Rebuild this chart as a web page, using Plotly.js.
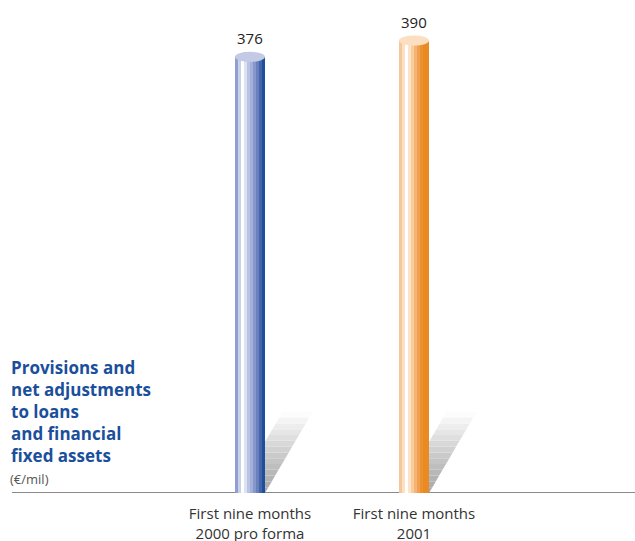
<!DOCTYPE html>
<html><head><meta charset="utf-8">
<script src="https://cdn.plot.ly/plotly-3.0.1.min.js"></script>
<style>html,body{margin:0;padding:0;background:#fff}#chart{width:635px;height:541px}</style>
</head><body><div id="chart"></div>
<script>
const categories = ["First nine months<br>2000 pro forma", "First nine months<br>2001"];
const values = [376, 390];
const valueLabels = ["376", "390"];
const titleLines = ["Provisions and", "net adjustments", "to loans", "and financial", "fixed assets"];
const unitLabel = "(€/mil)";
const stripeColors = [
  ["#8f9fd0","#c8d0ea","#ffffff","#dde2f2","#b9c3e3","#a3b0da","#8797cb","#6a80bc","#4565ab","#1e4f9c"],
  ["#f6c79a","#fbe0c4","#ffffff","#fde3c8","#f9cc9c","#f5b473","#f0a050","#ec9130","#ea8a22","#ea8a22"]
];
const topColors = ["#c2cae6", "#fbdfc0"];
const bottomColors = ["#7d8fc6", "#f2a860"];

const FONT = "'Open Sans', Lato, sans-serif";
const barW = 0.183;
const nS = 10;
const sW = barW / nS;
const traces = [];
for (let s = 0; s < nS; s++) {
  traces.push({
    type: "bar",
    x: categories,
    y: values,
    offset: -barW/2 + s*sW,
    width: sW + 0.0015,
    marker: {color: categories.map((c,i)=>stripeColors[i][s]), line: {width: 0}},
    hoverinfo: "skip",
    showlegend: false
  });
}
const shapes = [];
const annotations = [];
const eh = 4.4;
values.forEach((v, i) => {
  const nb = 14, H = 70, dx = 0.29;
  for (let k = 0; k < nb; k++) {
    const y0 = H*k/nb, y1 = H*(k+1)/nb;
    const x0 = -barW/2 + dx*k/nb, x1 = -barW/2 + dx*(k+1)/nb;
    const g = Math.round(170 + 82*Math.pow(k/(nb-1), 1.2));
    shapes.push({type:"path", xref:"x", yref:"y", layer:"below",
      path:`M ${i+x0} ${y0} L ${i+x0+barW} ${y0} L ${i+x1+barW} ${y1} L ${i+x1} ${y1} Z`,
      fillcolor:`rgb(${g},${g},${g})`, line:{width:0}});
  }
  shapes.push({type:"circle", xref:"x", yref:"y", layer:"below",
    x0: i-barW/2, x1: i+barW/2, y0: -eh, y1: eh, fillcolor: bottomColors[i], line:{width:0}});
  shapes.push({type:"circle", xref:"x", yref:"y", layer:"above",
    x0: i-barW/2, x1: i+barW/2, y0: v-eh, y1: v+eh, fillcolor: topColors[i], line:{width:0}});
  annotations.push({x: i, y: v, xref:"x", yref:"y", text: valueLabels[i], showarrow:false,
    yanchor:"bottom", yshift: 7, font:{family:FONT, size:15, color:"#222"}});
});
shapes.push({type:"line", xref:"paper", yref:"y", layer:"below", x0: 12/635, x1: 1, y0: 0, y1: 0,
  line:{color:"#8a8a8a", width:2}});
annotations.push({xref:"paper", yref:"paper", x: 10/635, y: (493-355)/493,
  xanchor:"left", yanchor:"top", align:"left", showarrow:false, borderpad:0,
  text:"<b>"+titleLines.join("<br>")+"</b>", font:{family:FONT, size:17, color:"#1b4f9c", weight:800}});
annotations.push({xref:"paper", yref:"paper", x: 9/635, y: (493-479)/493, xanchor:"left", yanchor:"middle",
  align:"left", showarrow:false, borderpad:0, text:unitLabel, font:{family:FONT, size:13, color:"#555"}});

const layout = {
  width: 635, height: 541,
  margin: {l:0, r:0, t:0, b:48},
  paper_bgcolor:"#fff", plot_bgcolor:"#fff",
  barmode:"overlay", bargap:0,
  xaxis: {type:"category", range:[-250/164, 385/164], showgrid:false, zeroline:false, showline:false,
    ticks:"", ticklabelstandoff: 10, tickfont:{family:FONT, size:15, color:"#333"}, fixedrange:true},
  yaxis: {range:[0, 425], visible:false, fixedrange:true},
  shapes, annotations, showlegend:false
};
Plotly.newPlot("chart", traces, layout, {displayModeBar:false, staticPlot:true});
</script></body></html>
